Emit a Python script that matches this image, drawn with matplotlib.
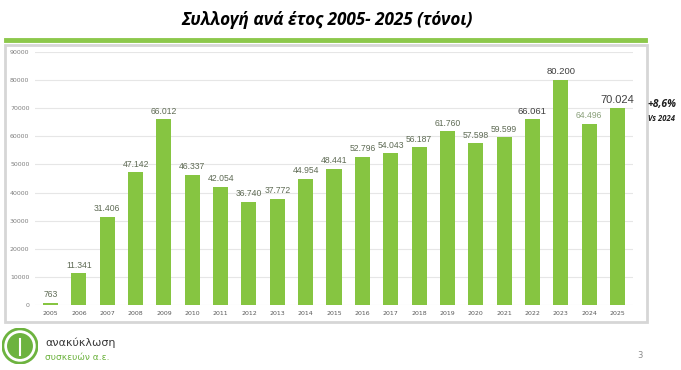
import matplotlib
matplotlib.use('Agg')
from matplotlib import pyplot as plt
from matplotlib.patches import Rectangle, Circle

years = [str(y) for y in range(2005, 2026)]
tonnes = [763, 11341, 31406, 47142, 66012, 46337, 42054, 36740, 37772, 44954,
          48441, 52796, 54043, 56187, 61760, 57598, 59599, 66061, 80200, 64496,
          70024]
y_ticks = list(range(0, 90001, 10000))

W, H = 681, 370
fig = plt.figure(figsize=(W / 100, H / 100), dpi=100)
fig.patch.set_facecolor('white')

def fx(px):
    return px / W

def fy(py):
    return 1 - py / H

# title and green rule
fig.text(fx(327), fy(20), 'Συλλογή ανά έτος 2005- 2025 (τόνοι)', ha='center', va='center',
         fontsize=12.3, fontweight='bold', fontstyle='italic', family='Open Sans', color='black')
fig.add_artist(plt.Line2D([fx(6), fx(645)], [fy(40), fy(40)], color='#8cc84b', lw=3.5))

# chart frame (behind the axes)
fig.add_artist(Rectangle((fx(5), fy(322)), fx(642), (322 - 45) / H, transform=fig.transFigure,
                         facecolor='white', edgecolor='#d6d6d6', lw=2, zorder=-5))

ax = fig.add_axes([fx(35), fy(305), fx(598), (305 - 52) / H])
x = range(len(years))
ax.bar(x, tonnes, width=0.53, color='#86c541', zorder=2)
ax.set_xlim(-0.55, len(years) - 0.45)
ax.set_ylim(0, 90000)
ax.set_yticks(y_ticks)
ax.set_yticklabels([str(t) for t in y_ticks], fontsize=4.5, color='#7f7f7f')
ax.set_xticks(list(x))
ax.set_xticklabels(years, fontsize=4.5, color='#595959')
ax.tick_params(length=0, pad=4)
ax.grid(axis='y', color='#e6e6e6', lw=0.8, zorder=0)
for s in ax.spines.values():
    s.set_visible(False)
ax.patch.set_alpha(0)

for i, v in enumerate(tonnes):
    lbl = f'{v:,}'.replace(',', '.')
    size, col = 6.2, '#5f6b55'
    if years[i] == '2025':
        size, col = 8, '#404040'
    elif years[i] in ('2023', '2022'):
        size, col = 6.8, '#404040'
    elif years[i] == '2024':
        col = '#8aa07a'
    ax.text(i, v + 1200, lbl, ha='center', va='bottom', fontsize=size, color=col,
            family='Liberation Sans')

# growth note
fig.text(fx(662), fy(105), '+8,6%', ha='center', va='center', fontsize=7.5,
         fontweight='bold', fontstyle='italic', family='Open Sans', color='#202020')
fig.text(fx(662), fy(118), 'Vs 2024', ha='center', va='center', fontsize=5.5,
         fontweight='bold', fontstyle='italic', family='Open Sans', color='#202020')

# logo
lax = fig.add_axes([fx(2), fy(364), fx(36), 36 / H])
lax.set_xlim(-1, 1)
lax.set_ylim(-1, 1)
lax.set_aspect('equal')
lax.axis('off')
lax.add_patch(Circle((0, 0), 0.95, facecolor='none', edgecolor='#6db33f', lw=2))
lax.add_patch(Circle((0, 0), 0.72, facecolor='#6db33f', edgecolor='none'))
lax.plot([0, 0], [-0.5, 0.4], color='white', lw=1.5)
fig.text(fx(45), fy(343), 'ανακύκλωση', ha='left', va='center', fontsize=8, color='#3a3a3a')
fig.text(fx(45), fy(357), 'συσκευών α.ε.', ha='left', va='center', fontsize=6.5, color='#6db33f')
fig.text(fx(640), fy(356), '3', ha='center', va='center', fontsize=6, color='#8a8a8a')

fig.savefig('out.png', dpi=100)
